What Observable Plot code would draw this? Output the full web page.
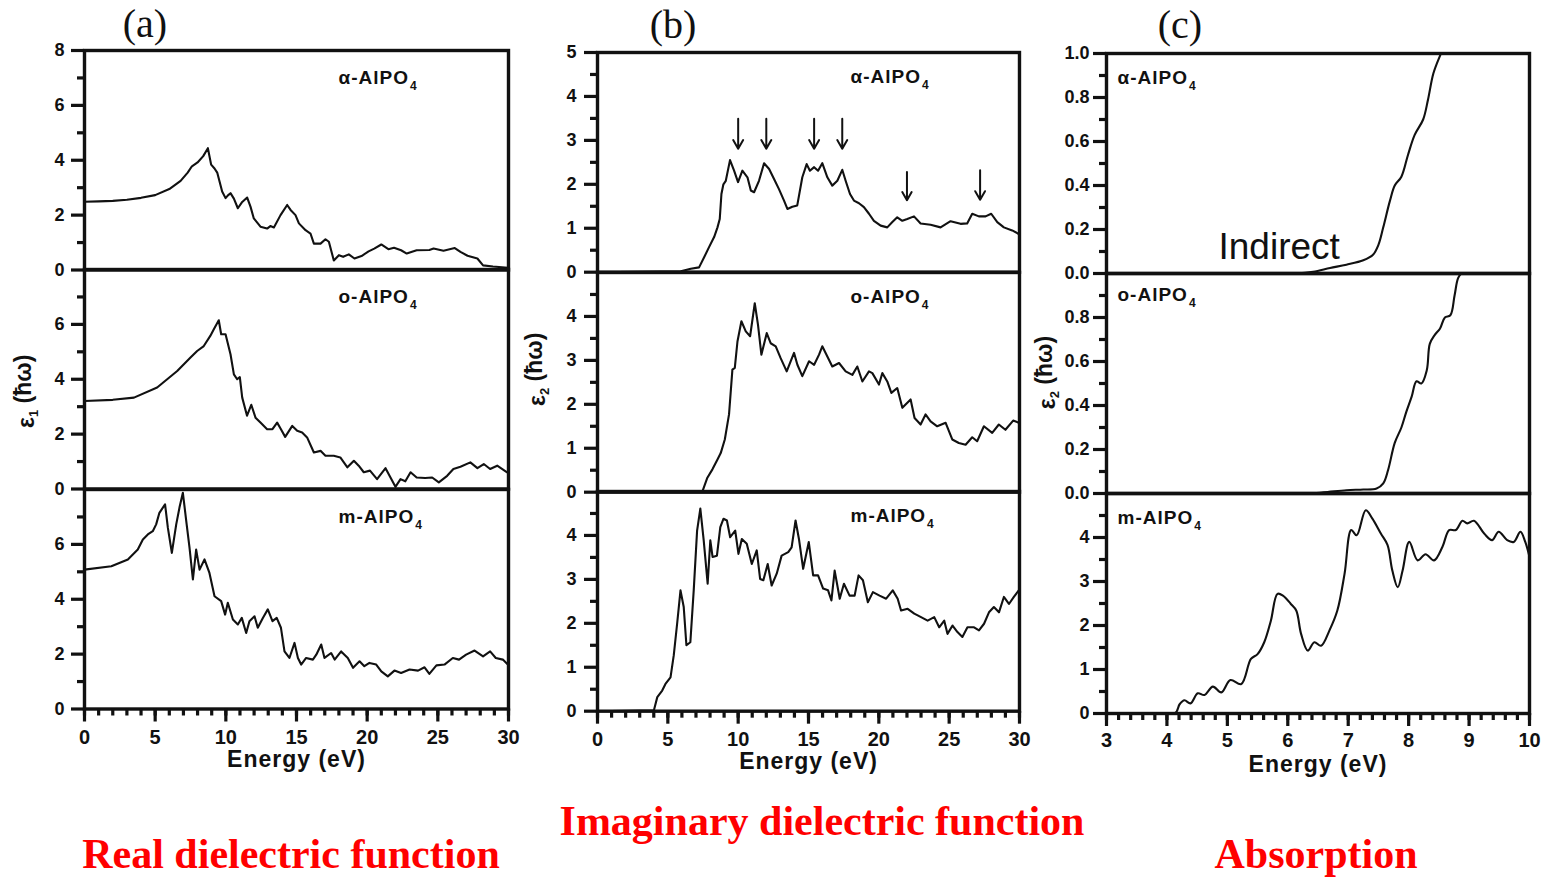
<!DOCTYPE html>
<html>
<head>
<meta charset="utf-8">
<script src="https://cdn.jsdelivr.net/npm/d3@7"></script>
<script src="https://cdn.jsdelivr.net/npm/@observablehq/plot@0.6"></script>
<style>
  body { margin: 0; background: #fff; }
  #fig { position: relative; width: 1541px; height: 877px; overflow: hidden; background: #fff;
         font-family: "Liberation Sans", Arial, sans-serif; }
  #fig svg { position: absolute; overflow: visible; }
  #fig g[aria-label$="tick label"] { font-weight: bold; }
  .title { position: absolute; font-family: "Liberation Serif", "Times New Roman", serif; font-weight: bold;
           font-size: 42px; line-height: 36px; color: #f00; white-space: nowrap; transform: translateX(-50%); }
  .tag { position: absolute; font-family: "Liberation Serif", "Times New Roman", serif; font-size: 40px;
         line-height: 40px; color: #111; white-space: nowrap; transform: translateX(-50%); }
</style>
</head>
<body>
<div id="fig"></div>
<script>
// ---- data: [energy (eV), value] ----
const phases = ["α", "o", "m"];

// real part ε1(ħω)
const realAlpha = [[0,2.49],[1,2.5],[2,2.52],[3,2.56],[4,2.63],[5,2.73],[6,2.95],[6.8,3.25],[7.3,3.55],[7.6,3.78],[8.0,3.92],[8.4,4.15],[8.73,4.44],[8.96,3.84],[9.2,3.7],[9.39,3.55],[9.74,2.86],[9.98,2.62],[10.15,2.72],[10.33,2.8],[10.57,2.6],[10.85,2.25],[11.16,2.48],[11.51,2.64],[11.75,2.3],[11.98,1.88],[12.45,1.58],[12.92,1.51],[13.15,1.6],[13.4,1.55],[13.87,2.0],[14.34,2.37],[14.58,2.19],[14.93,2.0],[15.17,1.7],[15.64,1.45],[15.99,1.33],[16.23,0.96],[16.7,0.96],[17.05,1.12],[17.29,1.03],[17.64,0.35],[18.0,0.54],[18.3,0.48],[18.7,0.57],[19.1,0.42],[19.6,0.51],[20.1,0.68],[20.5,0.78],[21.0,0.93],[21.5,0.76],[21.9,0.81],[22.4,0.72],[22.8,0.6],[23.5,0.72],[24.4,0.73],[24.7,0.78],[25.4,0.7],[26.2,0.8],[26.6,0.66],[27.1,0.52],[27.8,0.42],[28.2,0.17],[28.9,0.13],[30,0.08]];
const realOrtho = [[0,3.21],[2,3.25],[3.5,3.33],[5.14,3.7],[6.56,4.3],[7.5,4.79],[7.97,5.03],[8.44,5.21],[8.9,5.58],[9.15,5.82],[9.5,6.15],[9.67,5.64],[9.98,5.64],[10.33,4.91],[10.57,4.18],[10.8,4.0],[10.99,4.08],[11.16,3.33],[11.5,2.67],[11.8,3.07],[12.1,2.6],[12.45,2.42],[12.92,2.18],[13.3,2.18],[13.63,2.42],[13.9,2.18],[14.2,1.9],[14.7,2.3],[15.05,2.12],[15.4,2.06],[15.75,1.88],[16.23,1.33],[16.7,1.39],[17.05,1.21],[17.64,1.21],[18.1,1.15],[18.6,0.79],[19.06,1.03],[19.4,0.85],[19.76,0.61],[20.2,0.67],[20.7,0.36],[21.3,0.76],[21.65,0.42],[22.0,0.08],[22.36,0.36],[22.7,0.28],[23.07,0.61],[23.5,0.42],[24.1,0.4],[24.6,0.42],[25.07,0.24],[25.66,0.48],[26.1,0.73],[26.6,0.81],[27.3,0.97],[27.8,0.76],[28.25,0.91],[28.7,0.73],[29.2,0.85],[29.9,0.61]];
const realMono = [[0,5.08],[1.9,5.2],[3.07,5.45],[3.77,5.81],[4.13,6.18],[4.48,6.36],[4.83,6.48],[5.07,6.73],[5.3,7.15],[5.7,7.46],[5.9,6.6],[6.18,5.69],[6.49,6.73],[6.72,7.34],[6.96,7.88],[7.2,6.85],[7.43,5.88],[7.67,4.72],[7.9,5.81],[8.14,5.08],[8.49,5.45],[8.84,4.96],[9.2,4.11],[9.67,3.93],[9.95,3.44],[10.14,3.87],[10.5,3.26],[10.85,3.08],[11.13,3.32],[11.44,2.77],[11.67,3.2],[12.03,3.38],[12.26,2.96],[12.62,3.32],[12.97,3.63],[13.3,3.2],[13.6,3.32],[13.9,2.96],[14.15,2.1],[14.5,1.86],[14.86,2.41],[15.1,1.86],[15.33,1.62],[15.68,1.86],[16.16,1.8],[16.4,1.98],[16.75,2.35],[16.98,1.86],[17.45,2.04],[17.7,1.8],[18.16,2.1],[18.63,1.86],[19.0,1.5],[19.46,1.74],[19.8,1.56],[20.16,1.68],[20.64,1.62],[21.0,1.37],[21.46,1.19],[21.93,1.4],[22.4,1.31],[23.0,1.44],[23.6,1.4],[24.06,1.52],[24.4,1.28],[24.9,1.59],[25.47,1.62],[26.06,1.86],[26.5,1.8],[27.0,1.98],[27.6,2.13],[28.2,1.92],[28.7,2.1],[29.1,1.86],[29.6,1.8],[29.95,1.62]];

// imaginary part ε2(ħω)
const imagAlpha = [[0,0],[5.92,0.02],[6.63,0.08],[7.22,0.11],[7.58,0.34],[7.93,0.57],[8.29,0.8],[8.53,1.02],[8.69,1.21],[8.81,1.78],[8.95,2.0],[9.12,2.08],[9.42,2.55],[9.71,2.31],[9.99,2.05],[10.3,2.31],[10.66,2.16],[10.9,1.86],[11.13,1.82],[11.48,2.08],[11.84,2.48],[12.2,2.35],[12.55,2.12],[12.9,1.89],[13.26,1.63],[13.5,1.44],[13.85,1.49],[14.2,1.52],[14.56,2.16],[14.87,2.46],[15.1,2.31],[15.4,2.39],[15.68,2.31],[15.98,2.48],[16.34,2.16],[16.69,1.97],[17.05,2.08],[17.4,2.33],[17.64,2.08],[17.95,1.78],[18.23,1.63],[18.59,1.57],[18.94,1.48],[19.3,1.33],[19.65,1.17],[20.13,1.06],[20.6,1.02],[20.96,1.14],[21.31,1.25],[21.67,1.17],[22.02,1.21],[22.5,1.27],[22.97,1.11],[23.68,1.08],[24.39,1.02],[25.1,1.16],[25.81,1.1],[26.28,1.11],[26.64,1.33],[27.11,1.27],[27.59,1.27],[27.99,1.33],[28.42,1.14],[28.89,1.02],[29.48,0.95],[29.95,0.87]];
const imagOrtho = [[0,0],[7.46,0.02],[7.81,0.33],[8.17,0.52],[8.52,0.74],[8.76,0.89],[9.05,1.2],[9.35,1.77],[9.59,2.79],[9.76,2.83],[9.95,3.43],[10.23,3.89],[10.54,3.66],[10.85,3.55],[11.18,4.3],[11.41,3.81],[11.65,3.13],[12.03,3.62],[12.31,3.39],[12.67,3.32],[13.02,3.05],[13.45,2.75],[13.97,3.17],[14.21,2.9],[14.56,2.64],[15.04,2.98],[15.4,2.9],[15.75,3.13],[15.98,3.32],[16.34,3.09],[16.69,2.86],[17.17,2.94],[17.64,2.75],[18.12,2.67],[18.47,2.86],[18.83,2.52],[19.3,2.75],[19.54,2.71],[20.01,2.45],[20.25,2.71],[20.6,2.52],[20.89,2.26],[21.31,2.37],[21.67,1.92],[22.26,2.11],[22.54,1.69],[22.97,1.54],[23.32,1.77],[23.68,1.61],[24.15,1.5],[24.75,1.58],[25.22,1.2],[25.69,1.12],[26.17,1.08],[26.64,1.25],[26.99,1.16],[27.47,1.5],[28.06,1.35],[28.53,1.54],[29.0,1.42],[29.55,1.63],[29.95,1.58]];
const imagMono = [[0,0],[4.01,0.02],[4.25,0.32],[4.6,0.47],[4.83,0.62],[5.19,0.77],[5.42,1.27],[5.66,1.99],[5.9,2.75],[6.13,2.37],[6.32,1.5],[6.6,1.57],[6.84,2.75],[7.08,4.11],[7.31,4.61],[7.55,3.89],[7.83,2.9],[8.02,3.89],[8.18,3.51],[8.49,3.54],[8.73,4.19],[8.96,4.38],[9.2,4.34],[9.43,3.96],[9.79,4.11],[10.02,3.58],[10.26,3.92],[10.61,3.81],[10.97,3.35],[11.32,3.66],[11.56,3.01],[11.79,2.98],[12.1,3.35],[12.38,2.86],[12.74,3.13],[13.09,3.54],[13.56,3.62],[13.8,3.73],[14.08,4.34],[14.32,3.92],[14.62,3.24],[15.02,3.85],[15.33,3.09],[15.68,3.09],[16.04,2.79],[16.39,2.75],[16.63,2.52],[16.86,3.2],[17.22,2.56],[17.52,2.9],[17.92,2.63],[18.28,2.63],[18.56,3.09],[18.87,2.98],[19.22,2.48],[19.58,2.71],[20.05,2.63],[20.52,2.56],[20.99,2.75],[21.34,2.56],[21.58,2.29],[22.05,2.33],[22.52,2.22],[23.0,2.14],[23.47,2.06],[23.94,2.14],[24.29,1.91],[24.65,2.06],[24.88,1.76],[25.24,1.95],[25.59,1.8],[25.94,1.69],[26.3,1.91],[26.77,1.91],[27.12,1.84],[27.48,1.99],[27.83,2.25],[28.18,2.37],[28.54,2.25],[28.89,2.6],[29.25,2.44],[29.6,2.6],[29.95,2.75]];

// peaks marked on α-AlPO4 ε2
const peakEnergies = [10, 12, 15.4, 17.4, 22, 27.2];
const peakArrowTop = [3.49, 3.49, 3.49, 3.49, 2.28, 2.32];
const peakArrowTip = [2.81, 2.81, 2.81, 2.81, 1.64, 1.65];

// absorption edge
const absAlpha = [[3,0],[6.14,0],[6.42,0.008],[6.7,0.025],[6.97,0.04],[7.25,0.06],[7.41,0.085],[7.5,0.13],[7.58,0.21],[7.69,0.33],[7.77,0.4],[7.88,0.44],[7.99,0.54],[8.1,0.63],[8.24,0.7],[8.32,0.79],[8.41,0.91],[8.52,0.99],[8.57,1.02]];
const absOrtho = [[3,0],[6.3,0],[6.59,0.005],[6.97,0.015],[7.25,0.018],[7.47,0.023],[7.58,0.046],[7.66,0.107],[7.77,0.23],[7.88,0.3],[7.96,0.37],[8.05,0.44],[8.13,0.51],[8.21,0.5],[8.3,0.56],[8.35,0.68],[8.43,0.72],[8.52,0.75],[8.6,0.8],[8.69,0.81],[8.76,0.9],[8.82,0.98],[8.9,1.01]];
const absMono = [[3,0],[4.13,0],[4.21,0.21],[4.29,0.3],[4.39,0.23],[4.51,0.46],[4.62,0.42],[4.76,0.61],[4.9,0.48],[5.05,0.76],[5.23,0.67],[5.39,1.24],[5.5,1.35],[5.61,1.62],[5.72,2.11],[5.83,2.72],[5.92,2.68],[6.05,2.49],[6.14,2.34],[6.22,1.81],[6.33,1.43],[6.44,1.62],[6.55,1.54],[6.69,1.89],[6.82,2.34],[6.94,3.18],[7.05,4.17],[7.14,4.05],[7.29,4.62],[7.4,4.43],[7.54,4.09],[7.65,3.83],[7.73,3.25],[7.82,2.87],[7.9,3.25],[8.01,3.9],[8.15,3.48],[8.28,3.62],[8.42,3.48],[8.56,3.79],[8.67,4.17],[8.78,4.17],[8.89,4.38],[8.97,4.32],[9.08,4.38],[9.25,4.09],[9.38,3.94],[9.49,4.13],[9.63,3.94],[9.74,3.9],[9.85,4.13],[9.93,3.9],[10.0,3.56]];

// tick sets
const ticksE30 = d3.range(0, 31, 5);
const minorE30 = d3.range(0, 31, 1);
const ticksE10 = d3.range(3, 11, 1);
const minorE10 = d3.range(3, 10.01, 0.2);

// ---- drawing ----
const fig = document.getElementById("fig");
const SVGNS = "http://www.w3.org/2000/svg";
const fontFamily = "'Liberation Sans', Arial, Helvetica, sans-serif";

function tspan(text, attrs) {
  const s = document.createElementNS(SVGNS, "tspan");
  for (const [k, v] of Object.entries(attrs)) s.setAttribute(k, v);
  s.textContent = text;
  return s;
}

function drawPanel(o) {
  const ML = 80, MR = 24, MT = 14, MB = o.bottom ? 80 : 6;
  const marks = [
    Plot.frame({strokeWidth: 3.4}),
    Plot.axisY({ticks: o.yMajor, tickSize: 13, tickPadding: o.yPad, strokeWidth: 3.2,
                tickFormat: o.yFmt, fontSize: 18, fontWeight: "bold", label: null}),
    Plot.axisY({ticks: o.yMinor, tickSize: 7, strokeWidth: 3.2, tickFormat: () => "", label: null})
  ];
  if (o.bottom) {
    marks.push(
      Plot.axisX({ticks: o.xMajor, tickSize: 13, tickPadding: o.xPad, strokeWidth: 3.2,
                  tickFormat: d => String(d), fontSize: 20, fontWeight: "bold", label: null}),
      Plot.axisX({ticks: o.xMinor, tickSize: 7, strokeWidth: 3.2, tickFormat: () => "", label: null}),
      Plot.text(["Energy (eV)"], {frameAnchor: "bottom", dy: 58, lineAnchor: "bottom",
                                  fontSize: 23, fontWeight: "bold"})
    );
  }
  marks.push(Plot.line(o.data, {x: d => d[0], y: d => d[1], strokeWidth: 2.1, curve: o.curve,
                                strokeLinejoin: "round", clip: true}));
  marks.push(Plot.text([`${o.phase}-AlPO`], {frameAnchor: "top-left", dx: o.labelDx, dy: o.labelDy,
                                             textAnchor: "start", lineAnchor: "bottom",
                                             fontSize: 19, fontWeight: "bold"}));
  if (o.yTitle) {
    marks.push(Plot.text(["ε"], {frameAnchor: "left", dx: o.yTitle.dx, dy: o.yTitle.dy, rotate: -90,
                                 textAnchor: "middle", lineAnchor: "middle", fontSize: 23, fontWeight: "bold"}));
  }
  if (o.extra) marks.push(...o.extra);

  const svg = Plot.plot({
    width: o.w + ML + MR, height: o.h + MT + MB,
    marginLeft: ML, marginRight: MR, marginTop: MT, marginBottom: MB,
    x: {domain: o.xDomain, ...(o.bottom ? {} : {axis: null})},
    y: {domain: o.yDomain},
    style: {background: "transparent", overflow: "visible", fontFamily, color: "#111"},
    marks
  });
  svg.style.left = (o.left - ML) + "px";
  svg.style.top = (o.top - MT) + "px";

  for (const t of svg.querySelectorAll("text")) {
    const s = t.textContent;
    if (s.endsWith("-AlPO")) {
      t.style.letterSpacing = "1px";
      t.appendChild(tspan("4", {dx: 1, dy: "0.5em", "font-size": 12}));
    } else if (s === "ε" && o.yTitle) {
      t.appendChild(tspan(o.yTitle.sub, {dy: "0.3em", "font-size": 13}));
      t.appendChild(tspan(" (ħω)", {dy: "-0.3em"}));
    } else if (s === "Energy (eV)") {
      t.style.letterSpacing = "1px";
    }
  }
  fig.appendChild(svg);
}

const cols = {
  a: {left: 84, w: 424, top: 49.5, h: 219.5},
  b: {left: 597, w: 422, top: 52, h: 219.7},
  c: {left: 1106, w: 423, top: 53, h: 220}
};

const intFmt = d => String(d);
const decFmt = d3.format(".1f");

// (a) real part
[realAlpha, realOrtho, realMono].forEach((data, i) => {
  const g = cols.a;
  drawPanel({
    left: g.left, top: g.top + i * g.h, w: g.w, h: g.h, data, phase: phases[i],
    xDomain: [0, 30], yDomain: [0, 8],
    yMajor: i === 0 ? [0, 2, 4, 6, 8] : [0, 2, 4, 6], yMinor: [1, 3, 5, 7], yFmt: intFmt, yPad: 7,
    bottom: i === 2, xMajor: ticksE30, xMinor: minorE30, xPad: 8,
    curve: "linear", labelDx: 254, labelDy: 33,
    yTitle: i === 1 ? {dx: -58, dy: 12, sub: "1"} : null
  });
});

// (b) imaginary part
[imagAlpha, imagOrtho, imagMono].forEach((data, i) => {
  const g = cols.b;
  const extra = i === 0 ? [
    Plot.arrow(peakEnergies, {x1: d => d, x2: d => d,
                              y1: (d, j) => peakArrowTop[j], y2: (d, j) => peakArrowTip[j],
                              headLength: 9, strokeWidth: 2, stroke: "#111"})
  ] : [];
  drawPanel({
    left: g.left, top: g.top + i * g.h, w: g.w, h: g.h, data, phase: phases[i],
    xDomain: [0, 30], yDomain: [0, 5],
    yMajor: i === 0 ? [0, 1, 2, 3, 4, 5] : [0, 1, 2, 3, 4], yMinor: d3.range(0.5, 5, 1), yFmt: intFmt, yPad: 8,
    bottom: i === 2, xMajor: ticksE30, xMinor: minorE30, xPad: 8,
    curve: "linear", labelDx: 253, labelDy: 31,
    yTitle: i === 1 ? {dx: -60, dy: -13, sub: "2"} : null, extra
  });
});

// (c) absorption near the gap
[absAlpha, absOrtho, absMono].forEach((data, i) => {
  const g = cols.c;
  const extra = i === 0 ? [
    Plot.text(["Indirect"], {frameAnchor: "bottom-left", dx: 112, dy: -15, textAnchor: "start",
                             lineAnchor: "bottom", fontSize: 37, fontWeight: "normal"})
  ] : [];
  drawPanel({
    left: g.left, top: g.top + i * g.h, w: g.w, h: g.h, data, phase: phases[i],
    xDomain: [3, 10], yDomain: i === 2 ? [0, 5] : [0, 1],
    yMajor: i === 0 ? [0, 0.2, 0.4, 0.6, 0.8, 1.0] : i === 1 ? [0, 0.2, 0.4, 0.6, 0.8] : [0, 1, 2, 3, 4],
    yMinor: i === 2 ? d3.range(0.5, 5, 1) : [0.1, 0.3, 0.5, 0.7, 0.9],
    yFmt: i === 2 ? intFmt : decFmt, yPad: 4,
    bottom: i === 2, xMajor: ticksE10, xMinor: minorE10, xPad: 6,
    curve: "catmull-rom", labelDx: 11, labelDy: i === 1 ? 27 : 30,
    yTitle: i === 1 ? {dx: -59, dy: -11, sub: "2"} : null, extra
  });
});

// panel tags and column titles
function addDiv(cls, text, x, top) {
  const d = document.createElement("div");
  d.className = cls;
  d.textContent = text;
  d.style.left = x + "px";
  d.style.top = top + "px";
  fig.appendChild(d);
}
addDiv("tag", "(a)", 145, 4);
addDiv("tag", "(b)", 673, 5);
addDiv("tag", "(c)", 1180, 5);
addDiv("title", "Real dielectric function", 291, 836);
addDiv("title", "Imaginary dielectric function", 822, 803);
addDiv("title", "Absorption", 1316, 836);
</script>
</body>
</html>
